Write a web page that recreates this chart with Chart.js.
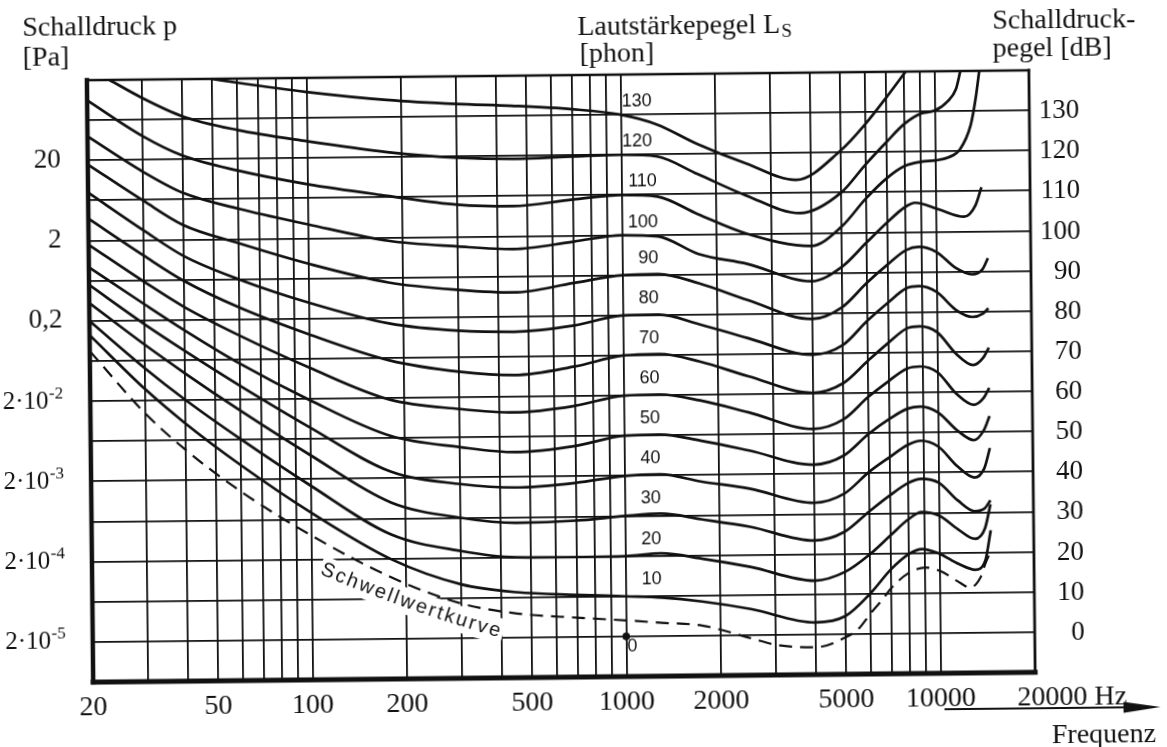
<!DOCTYPE html>
<html>
<head>
<meta charset="utf-8">
<title>Kurven gleicher Lautstärke</title>
<script src="https://cdn.jsdelivr.net/npm/chart.js@4.4.1/dist/chart.umd.min.js"></script>
<style>
  html, body { margin: 0; padding: 0; background: #fff; overflow: hidden; width: 1167px; height: 747px; }
  /* the printed sheet sits slightly askew */
  #sheet { position: absolute; left: -20px; top: -20px; width: 1207px; height: 787px;
           transform: rotate(-0.6deg); transform-origin: 603.5px 393.5px; }
  canvas { display: block; }
</style>
</head>
<body>
<div id="sheet"><canvas id="c" width="1207" height="787"></canvas></div>
<script>
// ---- frequency grid and axis labels ----
const GRID_HZ = [20, 30, 40, 50, 60, 70, 80, 90, 100, 200, 300, 400, 500, 600, 700, 800, 900,
                 1000, 2000, 3000, 4000, 5000, 6000, 7000, 8000, 9000, 10000, 20000];
const HZ_LABELS = [20, 50, 100, 200, 500, 1000, 2000, 5000, 10000];
const DB_LABELS = [0, 10, 20, 30, 40, 50, 60, 70, 80, 90, 100, 110, 120, 130];
const PA_DB   = [0, 20, 40, 60, 80, 100, 120];
const PA_BASE = ['2·10', '2·10', '2·10', '2·10', '0,2', '2', '20'];
const PA_EXP  = ['-5', '-4', '-3', '-2', '', '', ''];

// ---- equal-loudness contours (sound pressure level in dB) ----
const FREQ = [20, 30, 40, 60, 100, 180, 300, 450, 700, 1000, 1300, 1750, 2500, 4000,
              5000, 6000, 7000, 8000, 8800, 10000, 11500, 13000, 14000, 14600];
const PHON_10 = [76.5, 62.8, 54.3, 43.7, 31.7, 19.8, 13.4, 11.3, 10.5, 10, 9.6, 8.5, 6.5, 3,
                 4.5, 10, 16, 19.8, 21, 19.8, 17.2, 15.7, 18, 25.5];
const PHON_20 = [80, 68, 60.2, 50.2, 38.4, 26, 21.7, 20, 19.9, 20, 20.6, 19.2, 17, 13.4,
                 15.5, 19.8, 24.5, 28.5, 30.2, 29.3, 25.8, 23.4, 26, 32];
const PHON_30 = [84.5, 73.9, 66.8, 57.3, 46, 34, 30, 28.6, 29, 30, 30.5, 29, 27, 23.4,
                 25.5, 30.5, 34.5, 37.5, 38.5, 37.5, 33, 30.3, 31, 33];
const PHON_40 = [89, 79, 72.4, 63.5, 52.9, 41.7, 38.4, 37.4, 38.4, 40, 40.3, 38.4, 36.5, 32.8,
                 35, 40.3, 44, 47, 48, 46.5, 41.5, 38.7, 41, 46];
const PHON_50 = [93.4, 84, 77.5, 69, 59.7, 50.6, 47.6, 46.2, 47.6, 50, 50.2, 48.6, 46, 42.3,
                 44.5, 49.8, 53.5, 56, 56.5, 55, 50.5, 48, 50.5, 54];
const PHON_60 = [99, 89.6, 83.3, 76, 67.8, 59.6, 57.1, 56.1, 57.6, 60, 60.2, 58.6, 55.5, 51.2,
                 53.5, 59, 63, 66, 66.5, 65, 59.5, 56.8, 58.5, 61];
const PHON_70 = [105.5, 96.1, 89.8, 83, 76.1, 69.4, 66.4, 65.4, 67.4, 70, 70.3, 68.3, 64.5, 60.2,
                 62.5, 68, 72.5, 76, 76.5, 75, 69.5, 66.7, 68.5, 71];
const PHON_80 = [112, 102.4, 96, 90, 84, 78.6, 76.6, 76.2, 77.6, 80, 80.1, 77.6, 74, 69.7,
                 72, 78, 82.5, 86, 86.5, 85, 80.5, 78.7, 79.5, 80.8];
const PHON_90 = [119, 109.8, 103.7, 99, 93.7, 88.8, 86.8, 86, 88.2, 90, 90.2, 87.8, 83.5, 78.6,
                 81.5, 87.5, 92, 95.5, 96.3, 95, 91, 89.3, 90.5, 93.3];

const FREQ_100 = [20, 30, 40, 60, 100, 180, 300, 450, 700, 1000, 1300, 1750, 2500, 4000,
                  5000, 6000, 7000, 8000, 8600, 10200, 12300, 13400, 14000];
const PHON_100 = [126, 117, 111.7, 107.6, 103.5, 99.2, 97.6, 96.8, 98.5, 100, 99.6, 95.1, 92.5, 88,
                  91.5, 97.5, 102.5, 106.3, 107.3, 105.6, 103.7, 106.6, 111];

const FREQ_110 = [20, 30, 40, 60, 100, 180, 300, 450, 700, 1000, 1300, 1750, 2500, 4000,
                  5000, 6000, 7000, 8000, 9000, 10000, 11000, 12000, 13000, 13500, 13900];
const PHON_110 = [135, 125.9, 121, 117.1, 113.5, 110.4, 108, 107.5, 109, 110, 109.5, 105, 100, 96.8,
                  101.5, 108.5, 113.5, 116.5, 117.5, 117.8, 118.5, 120.5, 126.5, 133, 140];

const FREQ_120 = [23.6, 30, 40, 60, 100, 180, 300, 450, 700, 1000, 1300, 1750, 2500, 3700,
                  5000, 6000, 7000, 8000, 9000, 10000, 11000, 11700, 12100];
const PHON_120 = [140, 135.4, 130.8, 127.2, 124.2, 121.3, 119.7, 119.3, 119.7, 120, 119.5, 115, 109.5, 105,
                  110, 117, 122.5, 127, 129.5, 130.2, 132.5, 135.5, 140];

const FREQ_130 = [50, 60, 100, 180, 300, 450, 700, 1000, 1300, 1750, 2500, 3600,
                  5000, 6000, 7000, 8100];
const PHON_130 = [140, 139, 136.5, 134.3, 133.1, 132.5, 131.5, 130, 127.5, 122.5, 117.5, 113.3,
                  120.5, 127, 133.5, 140];

// hearing threshold (Schwellwertkurve)
const FREQ_THR = [20, 30, 40, 60, 100, 180, 300, 450, 700, 1000, 1300, 1750, 2500, 3000,
                  4000, 5000, 5500, 6000, 6600, 7000, 7950, 9000, 10100, 11400, 12500,
                  13500, 14000, 14600];
const THRESHOLD = [72.5, 56.7, 47.7, 37.1, 26, 15.3, 8.6, 6, 4.8, 4, 3.3, 2.5, -0.8, -2.5,
                   -3.2, -0.8, 1.3, 5, 8.75, 11.3, 15, 16.4, 15.4, 12.9, 11.3,
                   13.8, 17.2, 20.4];

const LEVELS = [130, 120, 110, 100, 90, 80, 70, 60, 50, 40, 30, 20, 10];
const CONTOURS = [
  [FREQ_130, PHON_130], [FREQ_120, PHON_120], [FREQ_110, PHON_110], [FREQ_100, PHON_100],
  [FREQ, PHON_90], [FREQ, PHON_80], [FREQ, PHON_70], [FREQ, PHON_60], [FREQ, PHON_50],
  [FREQ, PHON_40], [FREQ, PHON_30], [FREQ, PHON_20], [FREQ, PHON_10]
];

const INK = '#111';
const SERIF = '"Liberation Serif", "DejaVu Serif", serif';
const SANS = '"Liberation Sans", "DejaVu Sans", sans-serif';

const pts = (hz, db) => hz.map((f, i) => ({ x: f, y: db[i] }));

const datasets = CONTOURS.map(([hz, db], i) => ({
  label: LEVELS[i] + ' phon',
  data: pts(hz, db),
  borderColor: INK,
  borderWidth: 2.7,
  pointRadius: 0,
  cubicInterpolationMode: 'monotone',
  fill: false
}));
datasets.push({
  label: 'Schwellwertkurve',
  data: pts(FREQ_THR, THRESHOLD),
  borderColor: INK,
  borderWidth: 2.2,
  borderDash: [13, 8],
  pointRadius: 0,
  cubicInterpolationMode: 'monotone',
  fill: false
});
datasets.push({
  label: '0 phon',
  data: [{ x: 1000, y: 0 }],
  showLine: false,
  pointRadius: 3.5,
  pointBackgroundColor: INK,
  pointBorderColor: INK
});

// draws the sheet: frame, lettering, curve numbers and the frequency arrow
const sheet = {
  id: 'sheet',
  beforeDraw(chart) {
    const c = chart.ctx;
    c.save();
    c.fillStyle = '#fff';
    c.fillRect(0, 0, chart.width, chart.height);
    c.restore();
  },
  beforeDatasetsDraw(chart) {
    const c = chart.ctx, xs = chart.scales.x, ys = chart.scales.y;
    // lettering along the threshold curve, blanking the grid behind it
    const txt = 'Schwellwertkurve';
    c.save();
    c.font = '20px ' + SANS;
    const chars = [...txt];
    const w = chars.map(ch => c.measureText(ch).width);
    const natural = w.reduce((a, b) => a + b, 0);
    const len = 190;
    const sp = (len - natural) / (chars.length - 1);
    const a0 = 23.6, a1 = 16.6;
    const x0 = xs.getPixelForValue(106), y0 = ys.getPixelForValue(16.4);
    for (const pass of ['blank', 'ink']) {
      let x = x0, y = y0, s = 0;
      chars.forEach((ch, i) => {
        const adv = w[i] + sp;
        const ang = (a0 + (a1 - a0) * (s + adv / 2) / len) * Math.PI / 180;
        c.save();
        c.translate(x, y);
        c.rotate(ang);
        if (pass === 'blank') {
          c.fillStyle = '#fff';
          c.fillRect(-2, -19, adv + 3, 26);
        } else {
          c.fillStyle = INK;
          c.fillText(ch, 0, 0);
        }
        c.restore();
        x += adv * Math.cos(ang);
        y += adv * Math.sin(ang);
        s += adv;
      });
    }
    c.restore();
  },
  afterDatasetsDraw(chart) {
    const c = chart.ctx, a = chart.chartArea, xs = chart.scales.x, ys = chart.scales.y;
    c.save();
    c.strokeStyle = INK;
    c.lineCap = 'square';
    const edge = (x1, y1, x2, y2, lw) => {
      c.lineWidth = lw; c.beginPath(); c.moveTo(x1, y1); c.lineTo(x2, y2); c.stroke();
    };
    edge(a.left, a.top, a.right, a.top, 2.4);
    edge(a.right, a.top, a.right, a.bottom, 2.8);
    edge(a.left, a.bottom, a.right, a.bottom, 5);
    edge(a.left, a.top, a.left, a.bottom, 4.5);

    // phon numbers next to 1000 Hz
    c.fillStyle = INK;
    c.font = '18px ' + SANS;
    c.textAlign = 'center';
    c.textBaseline = 'middle';
    const x1k = xs.getPixelForValue(1000);
    LEVELS.forEach(n => {
      const dx = n >= 120 ? 16 : (n >= 100 ? 21 : 26);
      const dy = n >= 100 ? 13 : 17;
      c.fillText(String(n), x1k + dx, ys.getPixelForValue(n) - dy);
    });
    c.fillText('0', x1k + 6, ys.getPixelForValue(0) + 10);
    c.restore();
  },
  afterDraw(chart) {
    const c = chart.ctx, a = chart.chartArea, xs = chart.scales.x, ys = chart.scales.y;
    c.save();
    c.fillStyle = INK;
    c.strokeStyle = INK;
    c.textBaseline = 'alphabetic';

    // frequency labels
    c.font = '28px ' + SERIF;
    c.textAlign = 'center';
    const by = a.bottom + 33;
    HZ_LABELS.forEach(f => c.fillText(String(f), xs.getPixelForValue(f), by));
    c.textAlign = 'left';
    c.fillText('20000 Hz', xs.getPixelForValue(20000) - 18, by);

    // arrow and axis name
    const ay = a.bottom + 36;
    c.lineWidth = 2;
    c.beginPath(); c.moveTo(961, ay); c.lineTo(1150, ay); c.stroke();
    c.beginPath(); c.moveTo(1177, ay); c.lineTo(1140, ay - 5.5); c.lineTo(1140, ay + 5.5); c.closePath(); c.fill();
    c.fillText('Frequenz', 1068, a.bottom + 71);

    // sound pressure level (dB), right
    c.font = '27px ' + SERIF;
    c.textAlign = 'right';
    DB_LABELS.forEach(v => c.fillText(String(v), a.right + 50, ys.getPixelForValue(v) + 8));

    // sound pressure (Pa), left
    const rx = a.left - 27;
    PA_DB.forEach((v, i) => {
      const y = ys.getPixelForValue(v) + 6.5;
      let x = rx;
      if (PA_EXP[i]) {
        c.font = '17px ' + SERIF;
        c.fillText(PA_EXP[i], x, y - 10);
        x -= c.measureText(PA_EXP[i]).width + 0.5;
        c.font = '25px ' + SERIF;
      } else {
        c.font = '27px ' + SERIF;
      }
      c.fillText(PA_BASE[i], x, y);
    });

    // headings
    c.textAlign = 'left';
    c.font = '28px ' + SERIF;
    c.fillText('Schalldruck p', 46, 50);
    c.fillText('[Pa]', 46, 80);
    c.fillText('Lautstärkepegel L', 601, 55);
    const wl = c.measureText('Lautstärkepegel L').width;
    c.font = '19px ' + SERIF;
    c.fillText('S', 601 + wl + 1, 59);
    c.font = '28px ' + SERIF;
    c.fillText('[phon]', 603, 82);
    c.fillText('Schalldruck-', 1016, 53);
    c.fillText('pegel [dB]', 1016, 81);
    c.restore();
  }
};

new Chart(document.getElementById('c'), {
  type: 'line',
  data: { datasets },
  options: {
    responsive: false,
    devicePixelRatio: 1,
    animation: false,
    layout: { padding: { left: 110, top: 95, right: 0, bottom: 0 } },
    plugins: { legend: { display: false }, tooltip: { enabled: false } },
    scales: {
      x: {
        type: 'logarithmic',
        position: 'bottom',
        min: 20,
        max: 20000,
        afterBuildTicks: s => { s.ticks = GRID_HZ.map(v => ({ value: v })); },
        afterFit: s => { s.height = 90; },
        ticks: { display: false },
        grid: { color: INK, lineWidth: 1.8, drawTicks: false },
        border: { display: false }
      },
      y: {
        type: 'linear',
        position: 'right',
        min: -10,
        max: 140,
        afterFit: s => { s.width = 155; },
        ticks: { display: false, stepSize: 10 },
        grid: { color: INK, lineWidth: 1.8, drawTicks: false },
        border: { display: false }
      }
    }
  },
  plugins: [sheet]
});
</script>
</body>
</html>
